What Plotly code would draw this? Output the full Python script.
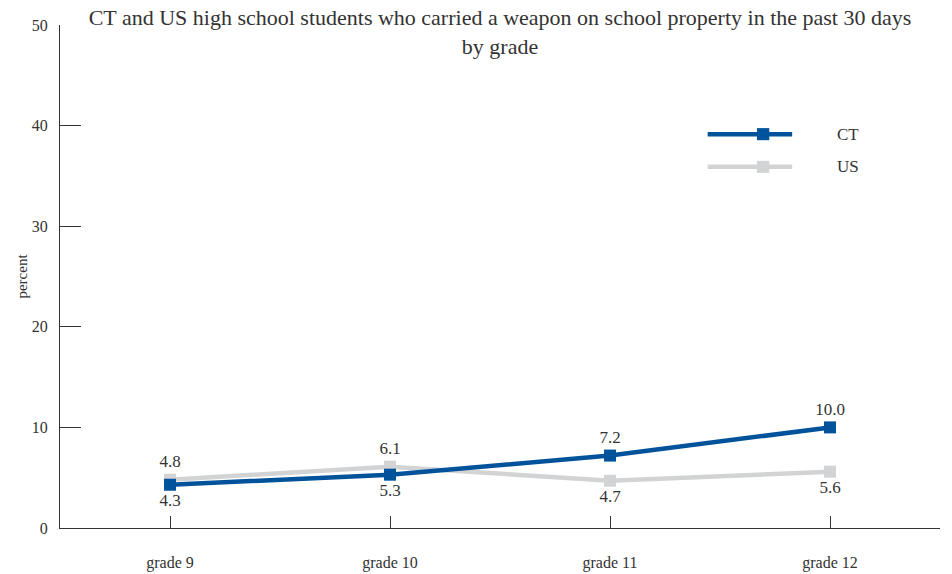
import plotly.graph_objects as go

grades = ["grade 9", "grade 10", "grade 11", "grade 12"]
ct_values = [4.3, 5.3, 7.2, 10.0]
us_values = [4.8, 6.1, 4.7, 5.6]
ct_text_pos = ["bottom center", "bottom center", "top center", "top center"]
us_text_pos = ["top center", "top center", "bottom center", "bottom center"]
y_ticks = [0, 10, 20, 30, 40, 50]

CT_COLOR = "#00539B"
US_COLOR = "#D2D3D5"
TXT = "#333333"
FONT = "Liberation Serif"

fig = go.Figure()
fig.add_trace(go.Scatter(
    x=grades, y=us_values, name="US", mode="lines+markers+text",
    line=dict(color=US_COLOR, width=4.5),
    marker=dict(symbol="square", size=12, color=US_COLOR),
    text=[f"{v:.1f}" for v in us_values], textposition=us_text_pos,
    textfont=dict(family=FONT, size=17, color=TXT), showlegend=False,
))
fig.add_trace(go.Scatter(
    x=grades, y=ct_values, name="CT", mode="lines+markers+text",
    line=dict(color=CT_COLOR, width=4.5),
    marker=dict(symbol="square", size=12, color=CT_COLOR),
    text=[f"{v:.1f}" for v in ct_values], textposition=ct_text_pos,
    textfont=dict(family=FONT, size=17, color=TXT), showlegend=False,
))

legend_items = [("CT", CT_COLOR, 0.783), ("US", US_COLOR, 0.718)]
for name, color, yy in legend_items:
    fig.add_shape(type="line", xref="paper", yref="paper", x0=0.736, x1=0.832, y0=yy, y1=yy,
                  line=dict(color=color, width=4.5))
    fig.add_shape(type="rect", xref="paper", yref="paper", x0=0.792, x1=0.806,
                  y0=yy - 0.012, y1=yy + 0.012, line=dict(width=0), fillcolor=color)
    fig.add_annotation(xref="paper", yref="paper", x=0.881, y=yy, text=name, showarrow=False,
                       xanchor="left", yanchor="middle", font=dict(family=FONT, size=17, color=TXT))

fig.update_layout(
    width=952, height=574,
    margin=dict(l=60, r=12, t=25, b=46),
    paper_bgcolor="white", plot_bgcolor="white",
    font=dict(family=FONT, color=TXT),
    title=dict(text="CT and US high school students who carried a weapon on school property in the past 30 days<br>by grade",
               x=0.5, xref="paper", xanchor="center", y=1 - 25 / 574, yanchor="top",
               font=dict(family=FONT, size=22, color=TXT)),
)
fig.update_xaxes(
    range=[-0.5, 3.5], showline=True, linecolor=TXT, linewidth=1.2, showgrid=False, zeroline=False,
    ticks="inside", ticklen=12, tickcolor=TXT, tickfont=dict(family=FONT, size=16, color=TXT),
    ticklabelstandoff=20, automargin=False,
)
fig.update_yaxes(
    range=[0, 50], tickvals=y_ticks, showline=True, linecolor=TXT, linewidth=1.2, showgrid=False,
    zeroline=False, ticks="inside", ticklen=21, tickcolor=TXT, ticklabelstandoff=8,
    tickfont=dict(family=FONT, size=16, color=TXT), automargin=False,
    title=dict(text="percent", font=dict(family=FONT, size=15, color=TXT), standoff=0),
)

fig.write_html("out.html", config={"displayModeBar": False},
               post_script="document.body.style.margin='0';")
